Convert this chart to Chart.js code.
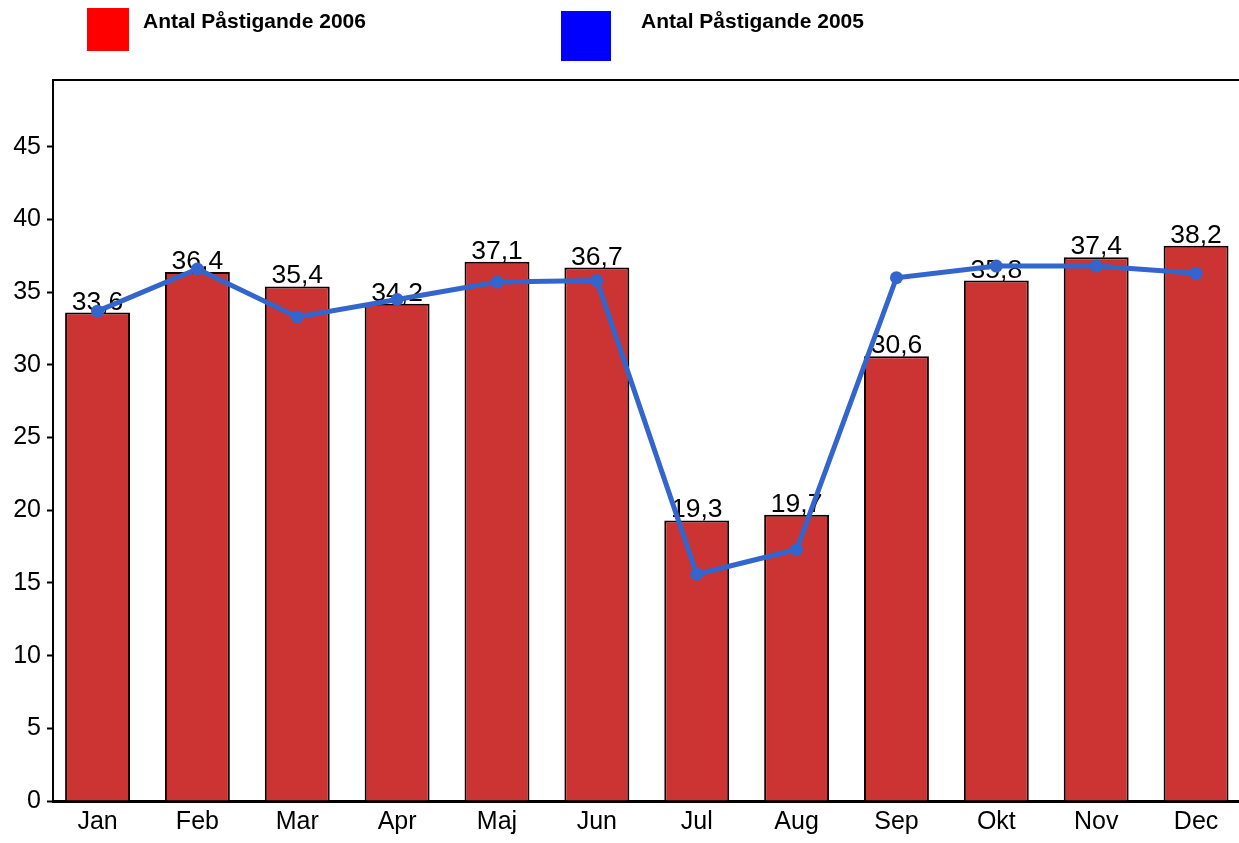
<!DOCTYPE html>
<html>
<head>
<meta charset="utf-8">
<script src="https://cdn.jsdelivr.net/npm/chart.js@4/dist/chart.umd.min.js"></script>
<style>
  html, body { margin: 0; padding: 0; background: #fff; overflow: hidden; }
  #wrap { position: relative; width: 1239px; height: 843px; }
  #c { position: absolute; left: 0; top: 0; }
  .lg-box { position: absolute; }
  .lg-text { position: absolute; font-family: "Liberation Sans", Arial, sans-serif; font-weight: bold; font-size: 21px; color: #000; white-space: nowrap; line-height: 1; }
</style>
</head>
<body>
<div id="wrap">
  <canvas id="c" width="1239" height="843"></canvas>
  <div class="lg-box" style="left:87px;top:8px;width:42px;height:43px;background:#ff0000;"></div>
  <div class="lg-text" id="lg1" style="left:143px;top:10px;"></div>
  <div class="lg-box" style="left:561px;top:11px;width:50px;height:50px;background:#0000ff;"></div>
  <div class="lg-text" id="lg2" style="left:641px;top:10px;"></div>
</div>
<script>
const months = ["Jan", "Feb", "Mar", "Apr", "Maj", "Jun", "Jul", "Aug", "Sep", "Okt", "Nov", "Dec"];
const series2006Name = "Antal Påstigande 2006";
const series2005Name = "Antal Påstigande 2005";
const values2006 = [33.6, 36.4, 35.4, 34.2, 37.1, 36.7, 19.3, 19.7, 30.6, 35.8, 37.4, 38.2];
const values2005 = [33.7, 36.6, 33.3, 34.5, 35.7, 35.8, 15.6, 17.3, 36.0, 36.8, 36.8, 36.3];
const yTicks = [0, 5, 10, 15, 20, 25, 30, 35, 40, 45];

document.getElementById('lg1').textContent = series2006Name;
document.getElementById('lg2').textContent = series2005Name;

const FONT = "'Liberation Sans', Arial, sans-serif";

const barData = values2006.map((v, i) => ({ x: i, y: v }));
const lineData = values2005.map((v, i) => ({ x: i, y: v }));

const valueLabels = {
  id: 'valueLabels',
  afterDatasetDraw(chart, args) {
    if (args.index !== 0) return;
    const ctx = chart.ctx;
    const meta = chart.getDatasetMeta(0);
    ctx.save();
    ctx.font = "26.5px " + FONT;
    ctx.fillStyle = '#000';
    ctx.textAlign = 'center';
    ctx.textBaseline = 'alphabetic';
    meta.data.forEach((el, i) => {
      const txt = values2006[i].toFixed(1).replace('.', ',');
      ctx.fillText(txt, el.x, el.y - 3);
    });
    ctx.restore();
  }
};

const frame = {
  id: 'frame',
  beforeDatasetsDraw(chart) {
    const { ctx, chartArea } = chart;
    ctx.save();
    ctx.strokeStyle = '#000';
    ctx.lineWidth = 2;
    ctx.beginPath();
    ctx.moveTo(chartArea.left, chartArea.top);
    ctx.lineTo(chart.width, chartArea.top);
    ctx.stroke();
    ctx.restore();
  }
};

new Chart(document.getElementById('c'), {
  type: 'bar',
  data: {
    datasets: [
      {
        type: 'bar',
        label: series2006Name,
        data: barData,
        backgroundColor: '#cc3333',
        borderColor: '#110000',
        borderWidth: 2,
        categoryPercentage: 1,
        barPercentage: 0.65,
        order: 1
      },
      {
        type: 'line',
        label: series2005Name,
        data: lineData,
        borderColor: '#3366cc',
        backgroundColor: '#3366cc',
        borderWidth: 5,
        pointRadius: 6.5,
        pointBackgroundColor: '#3366cc',
        pointBorderWidth: 0,
        tension: 0,
        order: 0
      }
    ]
  },
  options: {
    responsive: false,
    animation: false,
    layout: { autoPadding: false, padding: { top: 80, left: 0, right: 0, bottom: 0 } },
    plugins: { legend: { display: false }, tooltip: { enabled: false } },
    scales: {
      x: {
        type: 'linear',
        offset: false,
        min: -0.446,
        max: 11.43,
        afterFit(s) { s.height = 42; s.paddingLeft = 0; s.paddingRight = 0; },
        grid: { display: false, drawTicks: false, offset: false },
        border: { display: true, color: '#000', width: 3 },
        ticks: {
          stepSize: 1,
          includeBounds: false,
          autoSkip: false,
          maxRotation: 0,
          padding: 6,
          color: '#000',
          font: { family: FONT, size: 25 },
          callback: (v) => months[v] !== undefined && Number.isInteger(v) ? months[v] : ''
        }
      },
      y: {
        type: 'linear',
        min: 0,
        max: 49.6,
        afterFit(s) { s.width = 53; },
        afterBuildTicks(s) { s.ticks = yTicks.map(v => ({ value: v })); },
        grid: { display: true, drawOnChartArea: false, drawTicks: true, tickLength: 6, color: '#000', tickWidth: 2 },
        border: { display: true, color: '#000', width: 2 },
        ticks: {
          padding: 6,
          color: '#000',
          font: { family: FONT, size: 25 }
        }
      }
    }
  },
  plugins: [valueLabels, frame]
});
</script>
</body>
</html>
